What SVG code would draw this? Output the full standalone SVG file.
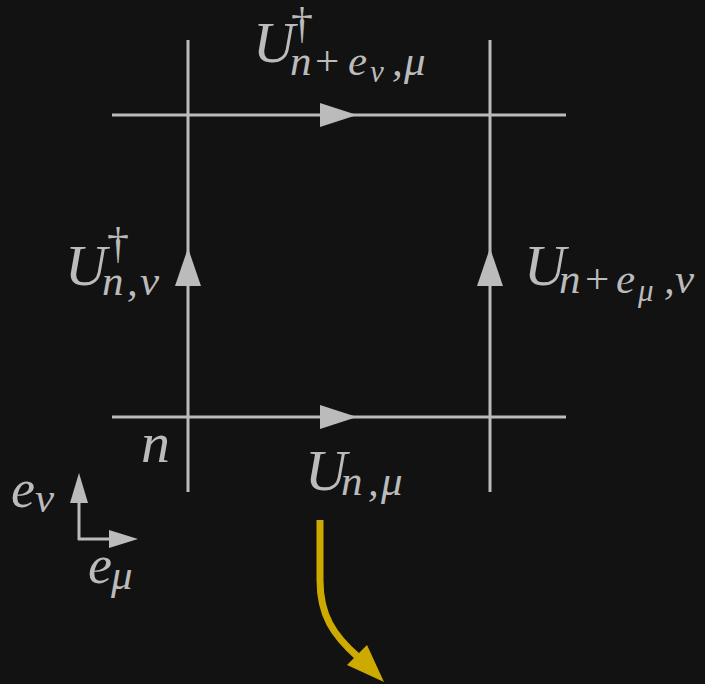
<svg xmlns="http://www.w3.org/2000/svg" width="705" height="684" viewBox="0 0 705 684">
<style>
.ln{stroke:#bbbbbb;stroke-width:3;fill:none}
.ah{fill:#bbbbbb;stroke:none}
.t{font-family:"Liberation Serif","Times New Roman",serif;font-style:italic;fill:#bbbbbb}
.up{font-style:normal}
.m{font-size:58px}
.s{font-size:43px}
.ss{font-size:31px}
.dg{font-size:44px}
</style>
<rect width="705" height="684" fill="#121212"/>
<g id="lattice">
<line class="ln" x1="188" y1="40" x2="188" y2="492"/>
<line class="ln" x1="490" y1="40" x2="490" y2="492"/>
<line class="ln" x1="112" y1="115" x2="566" y2="115"/>
<line class="ln" x1="112" y1="417" x2="566" y2="417"/>
</g>
<g id="connectors">
<polygon class="ah" points="357,115 320,103 320,127"/>
<polygon class="ah" points="357,417 320,405 320,429"/>
<polygon class="ah" points="188,248 175,286 201,286"/>
<polygon class="ah" points="490,248 477,286 503,286"/>
<line class="ln" x1="79" y1="540" x2="79" y2="500"/>
<line class="ln" x1="78" y1="539" x2="112" y2="539"/>
<polygon class="ah" points="79,473 70,503 88,503"/>
<polygon class="ah" points="138,539 109,530 109,548"/>
<path d="M320,520 L320,580 C320,615 333,635 358,657" fill="none" stroke="#ccaa00" stroke-width="7"/>
<polygon points="347,665 367,645 384,682" fill="#ccaa00"/>
</g>
<g id="label-top">
<text class="t m" x="253" y="62">U</text>
<text class="t up dg" x="302" y="38" text-anchor="middle">†</text>
<text class="t s" y="75"><tspan x="290">n</tspan><tspan class="up" x="315">+</tspan><tspan x="348">e</tspan><tspan class="ss" x="370" y="82">ν</tspan><tspan x="392" y="75">,</tspan><tspan x="404">μ</tspan></text>
</g>
<g id="label-left">
<text class="t m" x="65" y="285">U</text>
<text class="t up dg" x="118" y="258" text-anchor="middle">†</text>
<text class="t s" y="295"><tspan x="102">n</tspan><tspan x="127">,</tspan><tspan x="140">ν</tspan></text>
</g>
<g id="label-right">
<text class="t m" x="524" y="285">U</text>
<text class="t s" y="293"><tspan x="559">n</tspan><tspan class="up" x="585">+</tspan><tspan x="616">e</tspan><tspan class="ss" x="638" y="301">μ</tspan><tspan x="664" y="293">,</tspan><tspan x="675">ν</tspan></text>
</g>
<g id="label-bottom">
<text class="t m" x="305" y="490">U</text>
<text class="t s" y="495"><tspan x="341">n</tspan><tspan x="368">,</tspan><tspan x="381">μ</tspan></text>
</g>
<g id="label-n">
<text class="t m" x="141" y="462">n</text>
</g>
<g id="axes-labels">
<text class="t" style="font-size:54px" x="11" y="507">e</text>
<text class="t s" x="35" y="512">ν</text>
<text class="t" style="font-size:54px" x="88" y="583">e</text>
<text class="t s" x="111" y="589">μ</text>
</g>
</svg>
